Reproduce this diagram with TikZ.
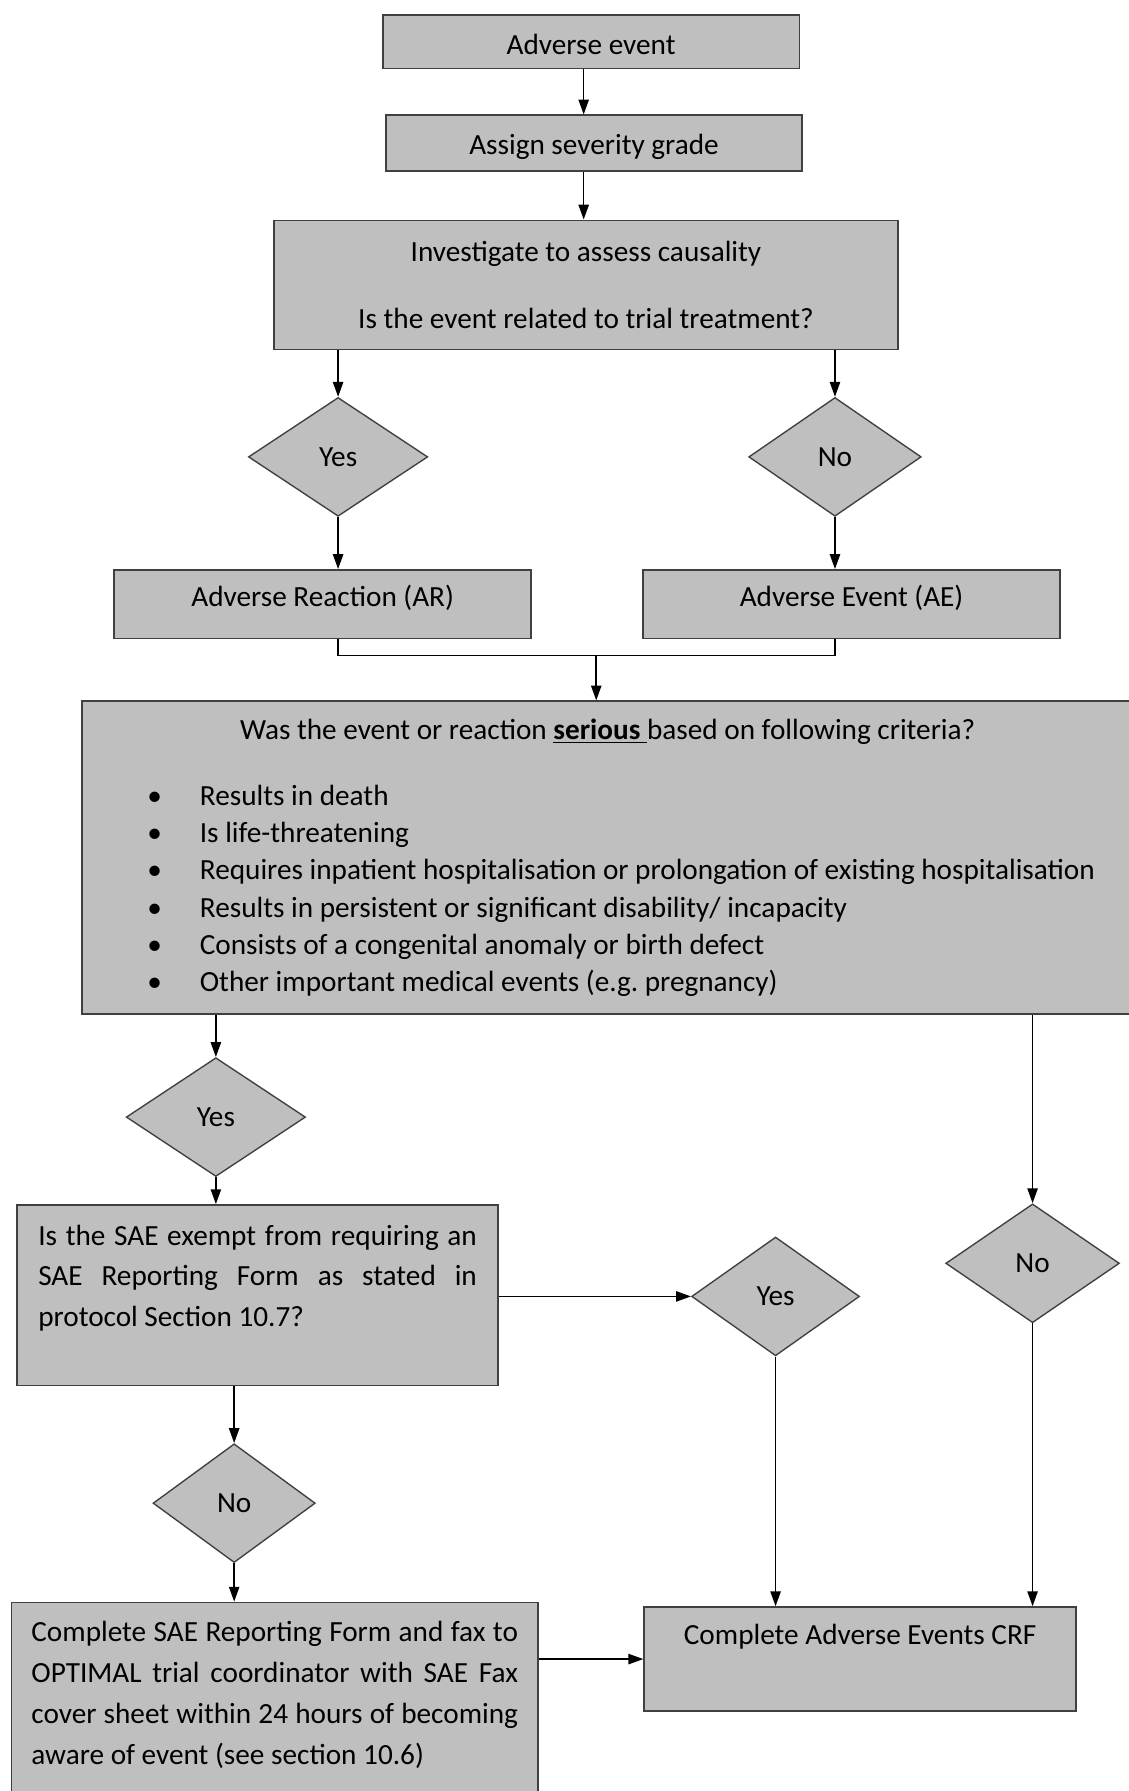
\documentclass[tikz,border=0pt]{standalone}
\usepackage{fontspec}
\setmainfont{Carlito}
\usepackage{xcolor}
\usetikzlibrary{shapes.geometric,arrows.meta,positioning,calc}
\frenchspacing

\definecolor{boxgray}{RGB}{191,191,191}
\definecolor{edgegray}{RGB}{64,64,64}
\newcommand{\crit}[1]{\hspace*{28.5pt}\makebox[23pt][l]{\textbullet}#1\par}

\begin{document}
\begin{tikzpicture}[
    x=0.5pt, y=-0.5pt,
    font=\fontsize{12.8}{15.6}\selectfont,
    box/.style={draw=edgegray, line width=0.8pt, fill=boxgray, inner sep=0pt, align=flush center},
    decision/.style={diamond, draw=edgegray, line width=0.6pt, fill=boxgray, inner sep=0pt, minimum width=76pt, minimum height=52pt},
    arrow/.style={-{Triangle[length=6.5pt,width=4.5pt]}, line width=0.7pt},
    link/.style={line width=0.7pt}
]
\useasboundingbox (0,0) rectangle (988,1568);

% Event and grading
\node[box, minimum width=182.5pt, minimum height=23.5pt] (event) at (517.5,36.5) {\raisebox{-5.6pt}[0pt][0pt]{Adverse event}};
\node[box, minimum width=182pt, minimum height=24.5pt] (grade) at (520,125.5) {\raisebox{-5.1pt}[0pt][0pt]{Assign severity grade}};
\node[box, minimum width=273pt, minimum height=56.5pt] (cause) at (513,249.5) {Investigate to assess causality\\[13.9pt]Is the event related to trial treatment?};

% Related or not
\node[decision, minimum width=78.5pt] (yes1) at (296,400) {Yes};
\node[decision, minimum width=75.5pt] (no1) at (731,400) {No};
\node[box, minimum width=182.5pt, minimum height=30pt] (ar) at (282.5,529) {\raisebox{-1.1pt}[0pt][0pt]{Adverse Reaction (AR)}};
\node[box, minimum width=182.5pt, minimum height=30pt] (ae) at (745.5,529) {\raisebox{-1.1pt}[0pt][0pt]{Adverse Event (AE)}};

% Seriousness criteria
\node[box, text width=460pt, align=flush left, minimum height=137pt, font=\fontsize{12.8}{16.3}\selectfont] (serious) at (532,751) {
  {\centering Was the event or reaction \underline{\textbf{serious\ }}based on following criteria?\par}
  \vspace{12.6pt}
  \crit{Results in death}
  \crit{Is life-threatening}
  \crit{Requires inpatient hospitalisation or prolongation of existing hospitalisation}
  \crit{Results in persistent or significant disability/ incapacity}
  \crit{Consists of a congenital anomaly or birth defect}
  \crit{Other important medical events (e.g. pregnancy)}
};

% Serious branch
\node[decision, minimum width=78.5pt] (yes2) at (189,978) {Yes};
\node[box, inner xsep=9.25pt, minimum width=210.5pt, minimum height=79pt] (exempt) at (225.5,1134) {\parbox[c][79pt][t]{192pt}{\fontsize{12.8}{17.75}\selectfont\rule{0pt}{17.5pt}Is the SAE exempt from requiring an\linebreak SAE Reporting Form as stated in\linebreak protocol Section 10.7?}};
\node[decision, minimum width=73.5pt] (yes3) at (679,1135) {Yes};
\node[decision, minimum width=76pt] (no2) at (904,1106) {No};
\node[decision, minimum width=71pt] (no3) at (205,1316) {No};

% Reporting
\node[box, inner xsep=8.75pt, minimum width=230.5pt, minimum height=84.5pt] (report) at (240.5,1487.5) {\parbox[c][84.5pt][t]{213pt}{\fontsize{12.8}{18}\selectfont\rule{0pt}{17pt}Complete SAE Reporting Form and fax to\linebreak OPTIMAL trial coordinator with SAE Fax\linebreak cover sheet within 24 hours of becoming\linebreak aware of event (see section 10.6)}};
\node[box] (crf) at (753,1452.5) {\parbox[c][45.5pt][t]{189pt}{\centering\rule{0pt}{16.5pt}Complete Adverse Events CRF}};

% Arrows
\coordinate (spine) at (511,0);
\coordinate (join) at (522,574);
\draw[arrow] (spine |- event.south) -- (spine |- grade.north);
\draw[arrow] (spine |- grade.south) -- (spine |- cause.north);
\draw[arrow] (yes1.north |- cause.south) -- (yes1.north);
\draw[arrow] (no1.north |- cause.south) -- (no1.north);
\draw[arrow] (yes1.south) -- (yes1.south |- ar.north);
\draw[arrow] (no1.south) -- (no1.south |- ae.north);
\draw[link] (ar.south -| yes1.south) |- (join);
\draw[link] (ae.south -| no1.south) |- (join);
\draw[arrow] (join) -- (join |- serious.north);
\draw[arrow] (yes2.north |- serious.south) -- (yes2.north);
\draw[arrow] (yes2.south) -- (yes2.south |- exempt.north);
\draw[arrow] (no2.north |- serious.south) -- (no2.north);
\draw[arrow] (exempt.east |- yes3.west) -- (yes3.west);
\draw[arrow] (no3.north |- exempt.south) -- (no3.north);
\draw[arrow] (no3.south) -- (no3.south |- report.north);
\draw[arrow] (report.east |- crf.west) -- (crf.west);
\draw[arrow] (yes3.south) -- (yes3.south |- crf.north);
\draw[arrow] (no2.south) -- (no2.south |- crf.north);

\end{tikzpicture}
\end{document}
